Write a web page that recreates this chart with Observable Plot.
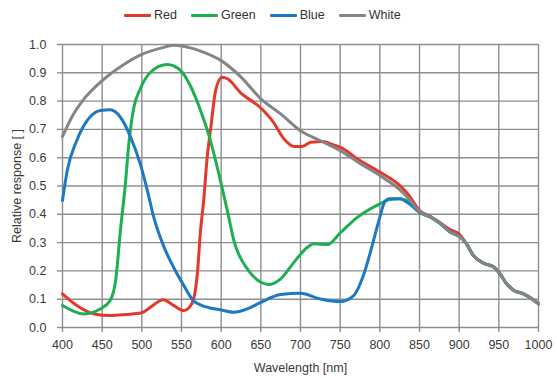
<!DOCTYPE html>
<html>
<head>
<meta charset="utf-8">
<script src="https://cdn.jsdelivr.net/npm/d3@7"></script>
<script src="https://cdn.jsdelivr.net/npm/@observablehq/plot@0.6"></script>
<style>
  html, body { margin: 0; padding: 0; background: #fff; }
  body { width: 557px; height: 378px; overflow: hidden; font-family: "Liberation Sans", Arial, sans-serif; }
  #legend { position: relative; height: 30px; }
  #legend .items { position: absolute; left: 124px; top: 8px; display: flex; align-items: center; gap: 14px; font-size: 12.5px; color: #333; }
  #legend .item { display: flex; align-items: center; }
  #legend .sw { width: 27px; height: 3px; margin-right: 3px; border-radius: 1px; }
</style>
</head>
<body>
<div id="legend"></div>
<div id="chart"></div>
<script>
const seriesNames = ["Red", "Green", "Blue", "White"];
const seriesColors = ["#e2392b", "#1eb050", "#1f78c2", "#858585"];

const xTicks = [400, 450, 500, 550, 600, 650, 700, 750, 800, 850, 900, 950, 1000];
const yTicks = [0, 0.1, 0.2, 0.3, 0.4, 0.5, 0.6, 0.7, 0.8, 0.9, 1.0];

const redWl = [400, 418, 440, 460, 480, 500, 511, 527, 540, 553, 563, 570, 574, 578, 582, 587, 593, 601, 608, 624, 651, 666, 679, 692, 702, 713, 729, 738, 750, 775, 800, 825, 837, 850, 864, 875, 889, 900, 908, 918, 931, 944, 950, 960, 969, 981, 992, 1000];
const redVal = [0.119, 0.078, 0.048, 0.042, 0.046, 0.052, 0.072, 0.098, 0.078, 0.060, 0.084, 0.19, 0.343, 0.449, 0.59, 0.708, 0.837, 0.884, 0.879, 0.831, 0.773, 0.725, 0.667, 0.640, 0.640, 0.655, 0.657, 0.649, 0.637, 0.590, 0.549, 0.502, 0.466, 0.413, 0.392, 0.372, 0.345, 0.330, 0.301, 0.254, 0.227, 0.213, 0.195, 0.154, 0.131, 0.119, 0.101, 0.084];

const greenWl = [400, 427, 448, 460, 467, 473, 479, 484, 490, 498, 511, 532, 549, 561, 574, 584, 593, 601, 608, 616, 633, 650, 660, 675, 692, 708, 717, 734, 750, 772, 800, 812, 825, 837, 850, 864, 875, 889, 900, 908, 918, 931, 944, 950, 960, 969, 981, 992, 1000];
const greenVal = [0.078, 0.048, 0.066, 0.095, 0.166, 0.343, 0.50, 0.66, 0.778, 0.843, 0.902, 0.929, 0.908, 0.855, 0.767, 0.684, 0.59, 0.496, 0.41, 0.307, 0.207, 0.160, 0.152, 0.172, 0.231, 0.282, 0.296, 0.293, 0.334, 0.39, 0.437, 0.452, 0.455, 0.443, 0.407, 0.390, 0.370, 0.337, 0.322, 0.301, 0.254, 0.227, 0.213, 0.195, 0.154, 0.131, 0.119, 0.101, 0.084];

const blueWl = [400, 406, 418, 431, 448, 460, 473, 486, 498, 507, 515, 528, 540, 553, 565, 574, 600, 616, 633, 650, 675, 700, 725, 750, 767, 780, 792, 800, 806, 812, 825, 837, 850, 864, 875, 889, 900, 908, 918, 931, 944, 950, 960, 969, 981, 992, 1000];
const blueVal = [0.449, 0.555, 0.661, 0.731, 0.767, 0.769, 0.743, 0.672, 0.578, 0.484, 0.39, 0.284, 0.213, 0.148, 0.095, 0.080, 0.062, 0.054, 0.066, 0.089, 0.117, 0.121, 0.101, 0.092, 0.113, 0.19, 0.307, 0.39, 0.443, 0.455, 0.455, 0.437, 0.407, 0.390, 0.370, 0.337, 0.322, 0.301, 0.254, 0.227, 0.213, 0.195, 0.154, 0.131, 0.119, 0.101, 0.084];

const whiteWl = [400, 412, 425, 450, 475, 500, 525, 540, 550, 575, 600, 625, 650, 675, 700, 725, 750, 775, 800, 825, 838, 850, 864, 876, 889, 900, 908, 918, 931, 944, 950, 960, 969, 981, 992, 1000];
const whiteVal = [0.675, 0.745, 0.800, 0.872, 0.925, 0.965, 0.988, 0.997, 0.995, 0.976, 0.943, 0.885, 0.808, 0.755, 0.695, 0.660, 0.625, 0.580, 0.537, 0.487, 0.450, 0.410, 0.390, 0.370, 0.337, 0.322, 0.301, 0.254, 0.227, 0.213, 0.195, 0.154, 0.131, 0.119, 0.101, 0.084];

const seriesWl = [redWl, greenWl, blueWl, whiteWl];
const seriesVal = [redVal, greenVal, blueVal, whiteVal];

const rows = [];
seriesNames.forEach((name, i) => {
  seriesWl[i].forEach((w, j) => rows.push({series: name, color: seriesColors[i], wl: w, v: seriesVal[i][j]}));
});

// legend
const items = d3.select("#legend").append("div").attr("class", "items");
seriesNames.forEach((name, i) => {
  const it = items.append("div").attr("class", "item");
  it.append("div").attr("class", "sw").style("background", seriesColors[i]);
  it.append("span").text(name);
});

const gridStyle = {stroke: "#8e8e8e", strokeOpacity: 1, strokeWidth: 1.4};

const chart = Plot.plot({
  width: 557,
  height: 348,
  marginLeft: 62,
  marginRight: 19,
  marginTop: 14,
  marginBottom: 51,
  style: {fontFamily: "'Liberation Sans', Arial, sans-serif", fontSize: "12.5px", color: "#3a3a3a", background: "#fff"},
  x: {domain: [400, 1000]},
  y: {domain: [0, 1]},
  marks: [
    Plot.gridX(xTicks, gridStyle),
    Plot.gridY(yTicks, gridStyle),
    Plot.axisX(xTicks, {tickSize: 5, tickPadding: 8, stroke: "#8e8e8e", strokeWidth: 1.4, tickFormat: d => String(d), label: "Wavelength [nm]", labelAnchor: "center", labelArrow: "none", labelOffset: 44}),
    Plot.axisY(yTicks, {tickSize: 5, tickPadding: 11, stroke: "#8e8e8e", strokeWidth: 1.4, tickFormat: d => d.toFixed(1), label: "Relative response [ ]", labelAnchor: "center", labelArrow: "none", labelOffset: 50}),
    Plot.line(rows, {x: "wl", y: "v", z: "series", stroke: d => d.color, strokeWidth: 3, curve: "monotone-x"})
  ]
});
document.getElementById("chart").appendChild(chart);
</script>
</body>
</html>
